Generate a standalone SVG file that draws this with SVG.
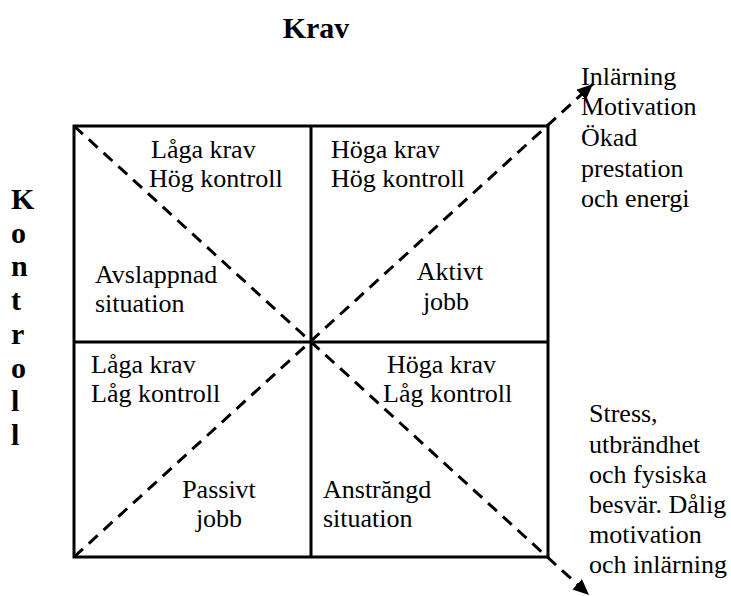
<svg xmlns="http://www.w3.org/2000/svg" width="731" height="596" viewBox="0 0 731 596">
<defs>
<style>
.t{font-family:"Liberation Serif","Times New Roman",serif;font-size:26px;fill:#000}
.b{font-family:"Liberation Serif","Times New Roman",serif;font-size:30px;font-weight:bold;fill:#000}
.box{fill:none;stroke:#000;stroke-width:3}
.dash{fill:none;stroke:#000;stroke-width:3;stroke-dasharray:12 8}
</style>
<marker id="ah" markerUnits="userSpaceOnUse" markerWidth="20" markerHeight="16" refX="16" refY="7" orient="auto">
<path d="M0,0 L16,7 L0,14 z" fill="#000"/>
</marker>
</defs>
<rect width="731" height="596" fill="#fff"/>
<g id="title"><text class="b" x="316" y="38" text-anchor="middle">Krav</text></g>
<g id="axis-kontroll">
<text class="b" x="11" y="209">K</text>
<text class="b" x="11" y="243">o</text>
<text class="b" x="11" y="276">n</text>
<text class="b" x="11" y="310">t</text>
<text class="b" x="11" y="344">r</text>
<text class="b" x="11" y="378">o</text>
<text class="b" x="11" y="411">l</text>
<text class="b" x="11" y="445">l</text>
</g>
<g id="grid">
<rect class="box" x="74" y="126" width="474" height="431"/>
<line class="box" x1="311" y1="126" x2="311" y2="557"/>
<line class="box" x1="74" y1="342" x2="548" y2="342"/>
</g>
<g id="connectors">
<line class="dash" x1="74" y1="126" x2="589" y2="595" marker-end="url(#ah)"/>
<line class="dash" x1="74" y1="557" x2="593" y2="84" marker-end="url(#ah)"/>
</g>
<g id="cell-tl">
<text class="t" x="151" y="158">Låga krav</text>
<text class="t" x="149" y="187">Hög kontroll</text>
<text class="t" x="95" y="283">Avslappnad</text>
<text class="t" x="95" y="312">situation</text>
</g>
<g id="cell-tr">
<text class="t" x="331" y="158">Höga krav</text>
<text class="t" x="331" y="187">Hög kontroll</text>
<text class="t" x="450" y="280" text-anchor="middle">Aktivt</text>
<text class="t" x="446" y="310" text-anchor="middle">jobb</text>
</g>
<g id="cell-bl">
<text class="t" x="91" y="373">Låga krav</text>
<text class="t" x="91" y="402">Låg kontroll</text>
<text class="t" x="219" y="498" text-anchor="middle">Passivt</text>
<text class="t" x="219" y="527" text-anchor="middle">jobb</text>
</g>
<g id="cell-br">
<text class="t" x="387" y="373">Höga krav</text>
<text class="t" x="383" y="402">Låg kontroll</text>
<text class="t" x="323" y="498">Anstrăngd</text>
<text class="t" x="323" y="527">situation</text>
</g>
<g id="outcome-positive">
<text class="t" x="581" y="85">Inlärning</text>
<text class="t" x="581" y="115">Motivation</text>
<text class="t" x="581" y="146">Ökad</text>
<text class="t" x="581" y="177">prestation</text>
<text class="t" x="581" y="207">och energi</text>
</g>
<g id="outcome-negative">
<text class="t" x="589" y="422">Stress,</text>
<text class="t" x="589" y="453">utbrändhet</text>
<text class="t" x="589" y="483">och fysiska</text>
<text class="t" x="589" y="513">besvär. Dålig</text>
<text class="t" x="589" y="543">motivation</text>
<text class="t" x="589" y="573">och inlärning</text>
</g>
</svg>
